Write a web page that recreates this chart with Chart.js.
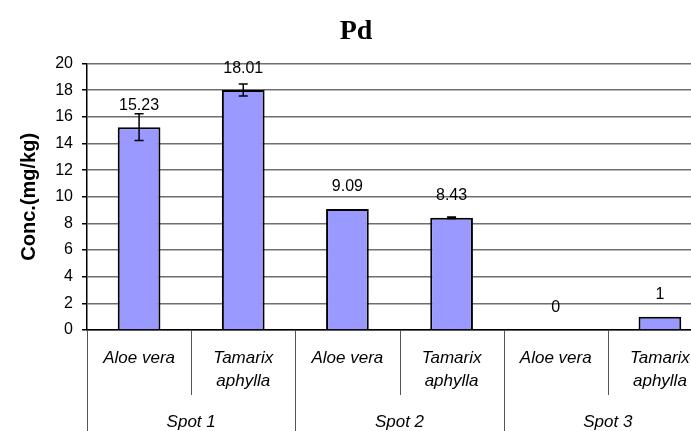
<!DOCTYPE html>
<html>
<head>
<meta charset="UTF-8">
<title>Pd</title>
<script src="https://cdn.jsdelivr.net/npm/chart.js"></script>
<style>
    html, body {
        margin: 0;
        padding: 0;
        background: #fff;
        overflow: hidden;
    }
    #wrap {
        width: 712px;
        height: 431px;
    }
</style>
</head>
<body>
<div id="wrap">
    <canvas id="pdChart" width="712" height="431"></canvas>
</div>

<script>
    // data
    const species = [['Aloe vera'], ['Tamarix', 'aphylla'], ['Aloe vera'], ['Tamarix', 'aphylla'], ['Aloe vera'], ['Tamarix', 'aphylla']];
    const spots = ['Spot 1', 'Spot 2', 'Spot 3'];
    const pdValues = [15.23, 18.01, 9.09, 8.43, 0, 1];
    const pdErrors = [1.0, 0.45, 0, 0.05, 0, 0];
    const valueLabels = ['15.23', '18.01', '9.09', '8.43', '0', '1'];

    // error bars + value labels above each bar
    const barExtras = {
        id: 'barExtras',
        afterDatasetsDraw(chart) {
            const ctx = chart.ctx;
            const y = chart.scales.y;
            const meta = chart.getDatasetMeta(0);
            ctx.save();
            ctx.strokeStyle = '#000';
            ctx.lineWidth = 1.5;
            meta.data.forEach((bar, i) => {
                const err = pdErrors[i];
                if (err > 0) {
                    const top = y.getPixelForValue(pdValues[i] + err);
                    const bot = y.getPixelForValue(pdValues[i] - err);
                    ctx.beginPath();
                    ctx.moveTo(bar.x, top);
                    ctx.lineTo(bar.x, bot);
                    ctx.moveTo(bar.x - 4.5, top);
                    ctx.lineTo(bar.x + 4.5, top);
                    ctx.moveTo(bar.x - 4.5, bot);
                    ctx.lineTo(bar.x + 4.5, bot);
                    ctx.stroke();
                }
            });
            ctx.fillStyle = '#000';
            ctx.font = '16px "Liberation Sans", Arial, sans-serif';
            ctx.textAlign = 'center';
            ctx.textBaseline = 'middle';
            meta.data.forEach((bar, i) => {
                ctx.fillText(valueLabels[i], bar.x, y.getPixelForValue(pdValues[i]) - 22);
            });
            ctx.restore();
        },
        afterDraw(chart) {
            // category separators below the axis
            const ctx = chart.ctx;
            const x = chart.scales.x;
            const half = (x.getPixelForValue(1) - x.getPixelForValue(0)) / 2;
            const bottom = chart.chartArea.bottom;
            ctx.save();
            ctx.strokeStyle = '#555';
            ctx.lineWidth = 1;
            for (let i = 0; i <= species.length; i++) {
                const px = Math.round(x.getPixelForValue(i) - half) + 0.5;
                const end = (i % 2 === 0) ? chart.height : bottom + 65;
                ctx.beginPath();
                ctx.moveTo(px, bottom);
                ctx.lineTo(px, end);
                ctx.stroke();
            }
            ctx.restore();
        }
    };

    new Chart(document.getElementById('pdChart'), {
        type: 'bar',
        data: {
            labels: species,
            datasets: [{
                data: pdValues,
                backgroundColor: '#9999ff',
                borderColor: '#000',
                borderWidth: 2,
                categoryPercentage: 1,
                barPercentage: 0.41
            }]
        },
        options: {
            responsive: false,
            devicePixelRatio: 1,
            animation: false,
            layout: {
                padding: {left: 0, right: 0, top: 0, bottom: 0}
            },
            plugins: {
                legend: {display: false},
                tooltip: {enabled: false},
                title: {
                    display: true,
                    text: 'Pd',
                    color: '#000',
                    font: {family: '"Liberation Serif", "Times New Roman", serif', size: 28, weight: 'bold', lineHeight: 1.2},
                    padding: {top: 15, bottom: 15}
                }
            },
            scales: {
                y: {
                    min: 0,
                    max: 20,
                    afterFit(scale) {
                        scale.width = 87;
                    },
                    ticks: {
                        stepSize: 2,
                        color: '#000',
                        padding: 9,
                        font: {family: '"Liberation Sans", Arial, sans-serif', size: 16}
                    },
                    grid: {
                        color: '#6e6e6e',
                        lineWidth: 1.5,
                        tickLength: 5,
                        tickColor: '#000'
                    },
                    border: {color: '#000', width: 1.5},
                    title: {
                        display: true,
                        text: 'Conc.(mg/kg)',
                        color: '#000',
                        padding: {top: 17, bottom: 0},
                        font: {family: '"Liberation Sans", Arial, sans-serif', size: 20, weight: 'bold'}
                    }
                },
                x: {
                    afterFit(scale) {
                        scale.height = 65;
                    },
                    grid: {display: false, drawTicks: false},
                    border: {color: '#000', width: 1.5},
                    ticks: {
                        color: '#000',
                        padding: 17,
                        maxRotation: 0,
                        autoSkip: false,
                        font: {family: '"Liberation Sans", Arial, sans-serif', size: 17, style: 'italic', lineHeight: 1.35}
                    }
                },
                x2: {
                    type: 'category',
                    position: 'bottom',
                    labels: spots,
                    afterFit(scale) {
                        scale.height = 36;
                    },
                    grid: {display: false, drawTicks: false},
                    border: {display: false},
                    ticks: {
                        color: '#000',
                        padding: 17,
                        maxRotation: 0,
                        font: {family: '"Liberation Sans", Arial, sans-serif', size: 17, style: 'italic'}
                    }
                }
            }
        },
        plugins: [barExtras]
    });
</script>
</body>
</html>
